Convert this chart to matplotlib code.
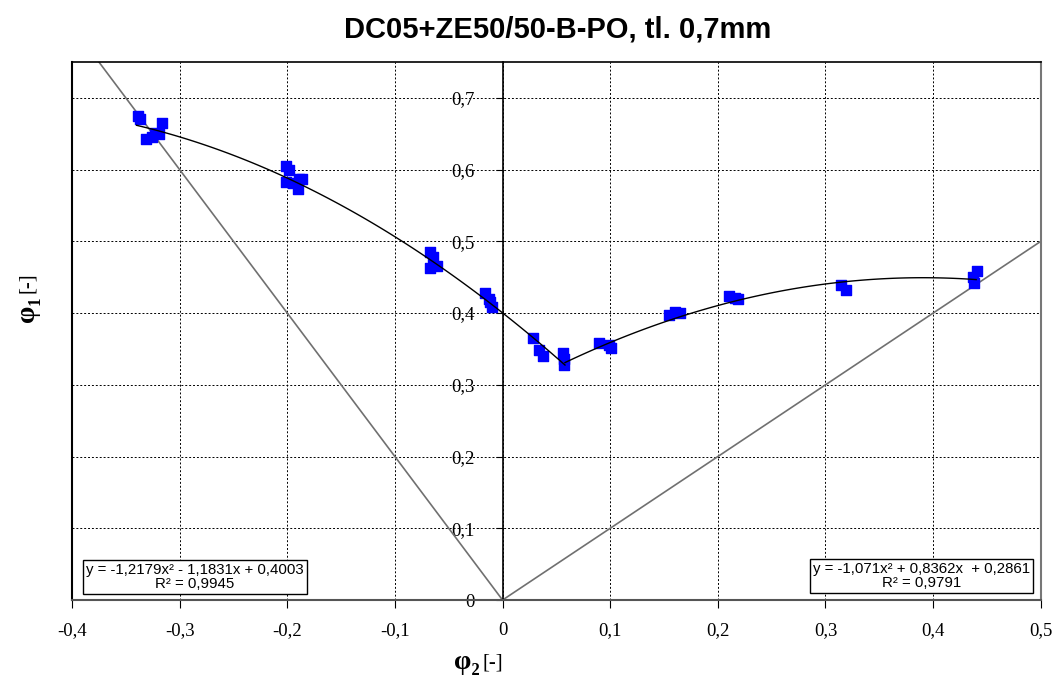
import matplotlib.pyplot as plt
import numpy as np

plt.rcParams['font.family'] = ['Liberation Serif', 'DejaVu Serif']

# naměřené body (phi2, phi1)
phi2 = [-0.339, -0.337, -0.331, -0.326, -0.323, -0.319, -0.316,
        -0.2015, -0.198, -0.2015, -0.195, -0.190, -0.189, -0.186,
        -0.0678, -0.065, -0.0678, -0.0613,
        -0.0167, -0.013, -0.012, -0.010,
        0.028, 0.034, 0.038, 0.056, 0.0575, 0.057,
        0.090, 0.099, 0.101,
        0.155, 0.160, 0.165,
        0.210, 0.216, 0.219,
        0.314, 0.3186,
        0.4366, 0.441, 0.438]
phi1 = [0.675, 0.671, 0.643, 0.645, 0.651, 0.650, 0.665,
        0.605, 0.600, 0.583, 0.582, 0.573, 0.587, 0.587,
        0.485, 0.478, 0.463, 0.466,
        0.428, 0.420, 0.416, 0.409,
        0.365, 0.349, 0.340, 0.344, 0.328, 0.336,
        0.358, 0.356, 0.351,
        0.398, 0.402, 0.400,
        0.424, 0.421, 0.419,
        0.4395, 0.4326,
        0.451, 0.458, 0.442]

# regrese
coef_left = [-1.2179, -1.1831, 0.4003]
coef_right = [-1.071, 0.8362, 0.2861]
x_left = [-0.34, 0.058]
x_right = [0.058, 0.44]

xticks = [-0.4, -0.3, -0.2, -0.1, 0, 0.1, 0.2, 0.3, 0.4, 0.5]
yticks = [0, 0.1, 0.2, 0.3, 0.4, 0.5, 0.6, 0.7]

fig = plt.figure(figsize=(10.62, 6.77), dpi=100)
ax = fig.add_axes([0.0678, 0.1137, 0.9122, 0.7947])

ax.spines['left'].set_position(('data', 0))
ax.spines['left'].set_linewidth(1.2)
ax.spines['bottom'].set_color('#555555')
ax.spines['bottom'].set_linewidth(1.5)
ax.spines['top'].set_linewidth(1.2)
ax.spines['right'].set_color('#777777')
ax.spines['right'].set_linewidth(1.5)

ax.set_xlim(-0.4, 0.5)
ax.set_ylim(0, 0.75)
ax.set_xticks(xticks)
ax.set_yticks(yticks)
ax.set_xticklabels([('%g' % t).replace('.', ',') for t in xticks])
ax.set_yticklabels([('%g' % t).replace('.', ',') for t in yticks])
ax.tick_params(axis='y', length=5, pad=15, direction='out', labelsize=13.5)
ax.tick_params(axis='x', length=6, pad=10, direction='out', labelsize=13.5)
ax.grid(True, color='black', linestyle=(0, (2, 2)), linewidth=0.7)
ax.set_axisbelow(True)
ax.axvline(-0.4, color='black', linewidth=1.5, clip_on=False)

# mezní přímky
ax.plot([-0.375, 0, 0.5], [0.75, 0, 0.5], color='#707070', linewidth=1.2)

ax.scatter(phi2, phi1, marker='s', s=55, color='#0000ff', zorder=3)

xl = np.linspace(x_left[0], x_left[1], 100)
xr = np.linspace(x_right[0], x_right[1], 100)
ax.plot(xl, np.polyval(coef_left, xl), color='black', linewidth=1, zorder=4)
ax.plot(xr, np.polyval(coef_right, xr), color='black', linewidth=1, zorder=4)

box = dict(boxstyle='square,pad=0.2', facecolor='white', edgecolor='black', linewidth=1)
ax.text(-0.286, 0.032, 'y = -1,2179x² - 1,1831x + 0,4003\nR² = 0,9945', ha='center', va='center',
        fontsize=10.8, family=['Liberation Sans', 'DejaVu Sans'], linespacing=1.0, bbox=box, zorder=5)
ax.text(0.389, 0.0335, 'y = -1,071x² + 0,8362x  + 0,2861\nR² = 0,9791', ha='center', va='center',
        fontsize=10.8, family=['Liberation Sans', 'DejaVu Sans'], linespacing=1.0, bbox=box, zorder=5)

fig.text(0.525, 0.957, 'DC05+ZE50/50-B-PO, tl. 0,7mm', ha='center', va='center',
         fontsize=21, fontweight='bold', family=['Liberation Sans', 'DejaVu Sans'])
fig.text(0.452, 0.021, 'φ₂', ha='right', va='center', fontsize=20, fontweight='bold')
fig.text(0.454, 0.021, '[-]', ha='left', va='center', fontsize=15)
fig.text(0.026, 0.563, 'φ₁', ha='center', va='top', fontsize=20, fontweight='bold', rotation=90)
fig.text(0.026, 0.567, '[-]', ha='center', va='bottom', fontsize=15, rotation=90)

fig.savefig('out.png', dpi=100)
